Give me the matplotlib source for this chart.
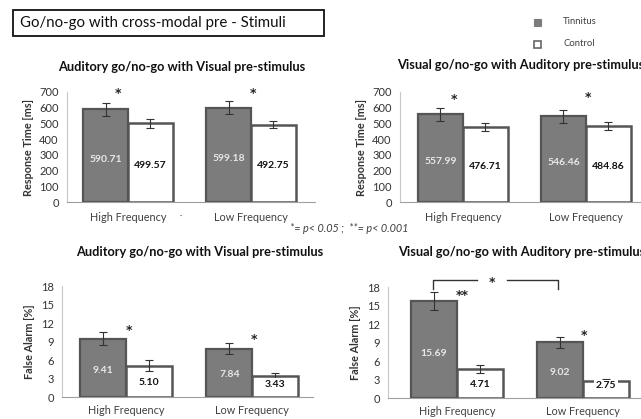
import numpy as np
import matplotlib.pyplot as plt
from matplotlib.patches import Rectangle

plt.rcParams['font.family'] = ['Lato', 'DejaVu Sans']

categories = ['High Frequency', 'Low Frequency']
groups = ['Tinnitus', 'Control']

# response time [ms]
rt_aud_tin = [590.71, 599.18]
rt_aud_con = [499.57, 492.75]
rt_aud_tin_err = [42, 42]
rt_aud_con_err = [26, 25]
rt_vis_tin = [557.99, 546.46]
rt_vis_con = [476.71, 484.86]
rt_vis_tin_err = [42, 42]
rt_vis_con_err = [27, 25]

# false alarm [%]
fa_aud_tin = [9.41, 7.84]
fa_aud_con = [5.10, 3.43]
fa_aud_tin_err = [1.05, 0.87]
fa_aud_con_err = [0.85, 0.4]
fa_vis_tin = [15.69, 9.02]
fa_vis_con = [4.71, 2.75]
fa_vis_tin_err = [1.5, 0.87]
fa_vis_con_err = [0.7, 0.3]

# significance marks per category: (x offset from category, y, text)
rt_aud_stars = [(-0.08, 690, '*'), (0.02, 690, '*')]
rt_vis_stars = [(-0.07, 652, '*'), (0.02, 668, '*')]
fa_aud_stars = [(0.02, 10.8, '*'), (0.01, 9.4, '*')]
fa_vis_stars = [(0.04, 16.6, '**'), (0.01, 10.1, '*')]

W, H = 641, 419
fig = plt.figure(figsize=(W / 100, H / 100), dpi=100)
fig.patch.set_facecolor('white')

TIN = '#7c7c7c'
EDGE = '#555555'
TXT = '#404040'
STAR_FONT = ['DejaVu Sans']


def px_axes(x0, x1, ytop, ybot):
    return fig.add_axes([x0 / W, (H - ybot) / H, (x1 - x0) / W, (ybot - ytop) / H])


def panel(ax, tin, con, tin_err, con_err, ymax, step, xlim, ylabel, stars, lab_min):
    x = np.arange(len(categories))
    w = 0.365
    ax.bar(x - w / 2, tin, w, color=TIN, edgecolor=EDGE, linewidth=1.6, zorder=2)
    ax.bar(x + w / 2, con, w, color='white', edgecolor=EDGE, linewidth=1.8, zorder=2)
    ax.errorbar(x - w / 2, tin, yerr=tin_err, fmt='none', ecolor='#333333',
                elinewidth=0.8, capsize=3, capthick=0.8, zorder=3)
    ax.errorbar(x + w / 2, con, yerr=con_err, fmt='none', ecolor='#333333',
                elinewidth=0.8, capsize=3, capthick=0.8, zorder=3)
    for i in range(len(categories)):
        ax.text(x[i] - w / 2, max(tin[i] * 0.46, lab_min), '{:.2f}'.format(tin[i]),
                ha='center', va='center', color='#e8e8e8', fontsize=7.5,
                fontweight='bold', zorder=4)
        ax.text(x[i] + w / 2, max(con[i] * 0.47, lab_min), '{:.2f}'.format(con[i]),
                ha='center', va='center', color='#111111', fontsize=7.5,
                fontweight='bold', zorder=4,
                bbox=dict(boxstyle='square,pad=0.15', fc='white', ec='none'))
    for i, (dx, sy, s) in enumerate(stars):
        ax.text(x[i] + dx, sy, s, ha='center', va='center', fontsize=9,
                family=STAR_FONT, fontweight='bold', color='#222222', zorder=4,
                clip_on=False)
    ax.set_xlim(*xlim)
    ax.set_ylim(0, ymax)
    ax.set_yticks(np.arange(0, ymax + 1, step))
    ax.set_xticks([])
    ax.tick_params(axis='y', length=0, labelsize=8, labelcolor='#333333', pad=6)
    for s in ['top', 'right']:
        ax.spines[s].set_visible(False)
    ax.spines['left'].set_color('#c8c8c8')
    ax.spines['bottom'].set_color('#a0a0a0')
    ax.set_ylabel(ylabel, fontsize=7.8, fontweight='bold', color='#333333', labelpad=4)


# header box
fig.text(20 / W, 1 - 23 / H, 'Go/no-go with cross-modal pre - Stimuli', fontsize=10.8,
         va='center', ha='left', color='#111111')
fig.add_artist(Rectangle((13 / W, 1 - 36 / H), 311 / W, 26 / H, transform=fig.transFigure,
                         fill=False, ec='#111111', lw=1.3))

# legend
fig.add_artist(Rectangle((534 / W, 1 - 26 / H), 7 / W, 7 / H, transform=fig.transFigure,
                         fc=TIN, ec=TIN, lw=0.8))
fig.add_artist(Rectangle((534 / W, 1 - 48 / H), 7 / W, 7 / H, transform=fig.transFigure,
                         fc='white', ec='#666666', lw=1.2))
fig.text(563 / W, 1 - 22 / H, groups[0], fontsize=6.8, color=TXT, va='center')
fig.text(563 / W, 1 - 44 / H, groups[1], fontsize=6.8, color=TXT, va='center')

# response time panels
ax1 = px_axes(67, 315, 92, 202)
panel(ax1, rt_aud_tin, rt_aud_con, rt_aud_tin_err, rt_aud_con_err, 700, 100,
      (-0.496, 1.52), 'Response Time [ms]', rt_aud_stars, 0)
ax2 = px_axes(400, 641, 92, 202)
panel(ax2, rt_vis_tin, rt_vis_con, rt_vis_tin_err, rt_vis_con_err, 700, 100,
      (-0.51, 1.447), 'Response Time [ms]', rt_vis_stars, 0)

# false alarm panels
ax3 = px_axes(62, 313, 286, 397)
panel(ax3, fa_aud_tin, fa_aud_con, fa_aud_tin_err, fa_aud_con_err, 18, 3,
      (-0.508, 1.48), 'False Alarm [%]', fa_aud_stars, 2.1)
ax4 = px_axes(388, 641, 287, 398)
panel(ax4, fa_vis_tin, fa_vis_con, fa_vis_tin_err, fa_vis_con_err, 18, 3,
      (-0.548, 1.46), 'False Alarm [%]', fa_vis_stars, 2.0)

# panel titles (the right-hand ones run off the figure edge)
t_aud = 'Auditory go/no-go with Visual pre-stimulus'
t_vis = 'Visual go/no-go with Auditory pre-stimulus'
fs_t = 9.2
fig.text(182 / W, 1 - 67 / H, t_aud, fontsize=fs_t, fontweight='bold', ha='center', va='center', color='#111111')
fig.text(397 / W, 1 - 65 / H, t_vis, fontsize=fs_t, fontweight='bold', ha='left', va='center', color='#111111')
fig.text(200 / W, 1 - 252 / H, t_aud, fontsize=fs_t, fontweight='bold', ha='center', va='center', color='#111111')
fig.text(398 / W, 1 - 252 / H, t_vis, fontsize=fs_t, fontweight='bold', ha='left', va='center', color='#111111')

# category labels under each pair of bars
fig.canvas.draw()
for ax, ybase in [(ax1, 217), (ax2, 217), (ax3, 410), (ax4, 411)]:
    for i, c in enumerate(categories):
        xd = ax.transData.transform((i, 0))[0]
        fig.text(xd / W, 1 - ybase / H, c, fontsize=7.8, color=TXT, ha='center', va='center')
fig.text(181 / W, 1 - 216 / H, '·', fontsize=6, color=TXT, ha='center', va='center')

# significance note
fig.text(290 / W, 1 - 228 / H, '*= p< 0.05 ;  **= p< 0.001', fontsize=7.8, style='italic',
         color=TXT, ha='left', va='center')

# bracket between high and low frequency tinnitus false alarms
by, bl = 19.1, 17.7
ax4.plot([-0.19, -0.19, 0.16], [bl, by, by], color='#333333', lw=1.0, clip_on=False)
ax4.plot([0.40, 0.80, 0.80], [by, by, bl], color='#333333', lw=1.0, clip_on=False)
ax4.text(0.28, 18.8, '*', ha='center', va='center', fontsize=9, family=STAR_FONT,
         fontweight='bold', color='#222222', clip_on=False)

fig.savefig('out.png', dpi=100)
